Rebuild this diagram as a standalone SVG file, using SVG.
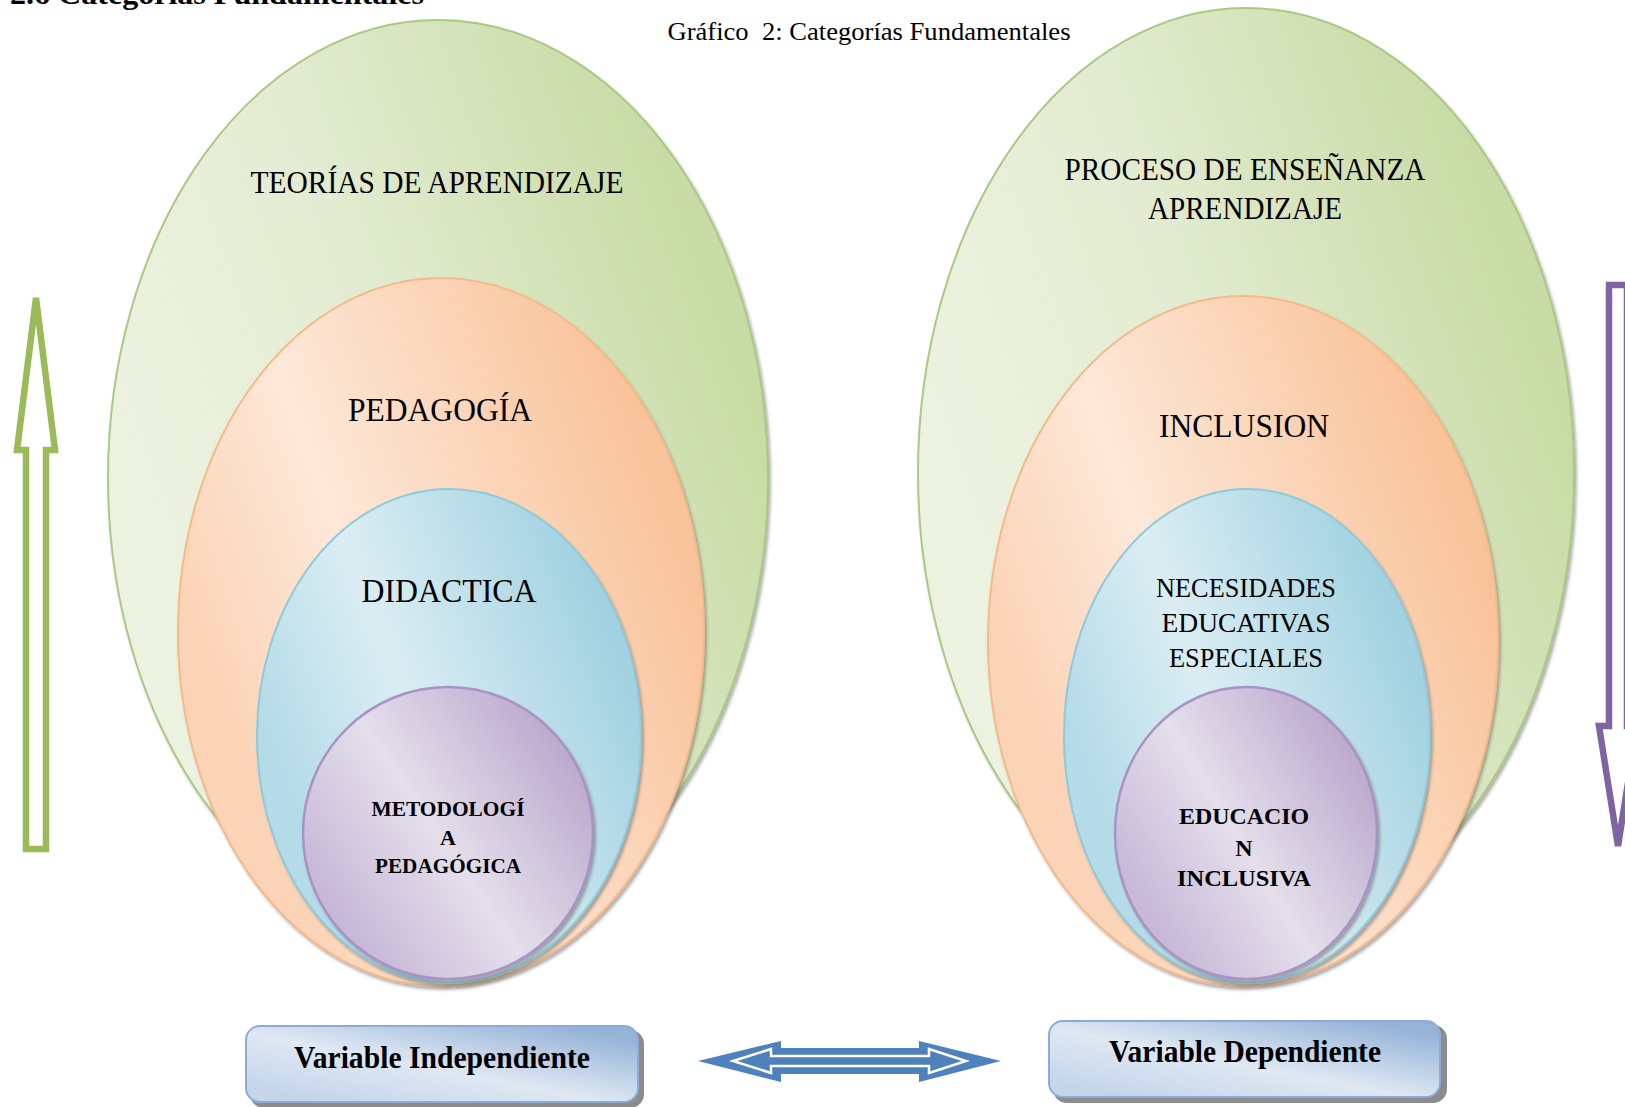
<svg xmlns="http://www.w3.org/2000/svg" width="1625" height="1107" viewBox="0 0 1625 1107">
<defs>
<linearGradient id="gGreen" x1="0.1" y1="0.65" x2="0.9" y2="0.25">
<stop offset="0" stop-color="#ecf2e0"/><stop offset="0.45" stop-color="#e3ecd2"/><stop offset="1" stop-color="#c8dba4"/>
</linearGradient>
<linearGradient id="gOrange" x1="0.1" y1="0.65" x2="0.9" y2="0.25">
<stop offset="0" stop-color="#fbd3b6"/><stop offset="0.35" stop-color="#fde8d8"/><stop offset="1" stop-color="#f9c39a"/>
</linearGradient>
<linearGradient id="gBlue" x1="0.1" y1="0.65" x2="0.9" y2="0.25">
<stop offset="0" stop-color="#b4dbe7"/><stop offset="0.4" stop-color="#dbedf3"/><stop offset="1" stop-color="#a2d2e1"/>
</linearGradient>
<linearGradient id="gPurple" x1="0.1" y1="0.75" x2="0.9" y2="0.2">
<stop offset="0" stop-color="#c7b8d7"/><stop offset="0.45" stop-color="#e4dfeb"/><stop offset="1" stop-color="#bcaace"/>
</linearGradient>
<linearGradient id="gBox" x1="0.1" y1="0.9" x2="0.9" y2="0.1">
<stop offset="0" stop-color="#c4d5ea"/><stop offset="0.45" stop-color="#dfe8f3"/><stop offset="1" stop-color="#95b3d7"/>
</linearGradient>
<filter id="sh" x="-10%" y="-10%" width="125%" height="125%">
<feDropShadow dx="2" dy="3" stdDeviation="1.5" flood-color="#555" flood-opacity="0.45"/>
</filter>
</defs>
<style>
.serif{font-family:"Liberation Serif","Times New Roman",serif;fill:#000}
.b{font-weight:bold}
.green{fill:url(#gGreen);stroke:#a9c985;stroke-width:2;filter:url(#sh)}
.orange{fill:url(#gOrange);stroke:#f6b98a;stroke-width:2;filter:url(#sh)}
.blue{fill:url(#gBlue);stroke:#8ecadb;stroke-width:2;filter:url(#sh)}
.purple{fill:url(#gPurple);stroke:#a993c4;stroke-width:2.5;filter:url(#sh)}
.box{fill:url(#gBox);stroke:#8eaadb;stroke-width:2}
.boxsh{fill:#8c8c8c}
</style>
<rect width="1625" height="1107" fill="#ffffff"/>

<text class="serif b" x="10" y="4" font-size="30" textLength="414" lengthAdjust="spacingAndGlyphs">2.6 Categorías Fundamentales</text>
<text class="serif" x="869" y="40" font-size="25" text-anchor="middle" textLength="403" lengthAdjust="spacingAndGlyphs" xml:space="preserve">Gráfico  2: Categorías Fundamentales</text>

<g id="left-set">
<g id="teorias"><ellipse class="green" cx="438" cy="478" rx="330" ry="458"/>
<text class="serif" x="437" y="193" font-size="31" text-anchor="middle" textLength="373" lengthAdjust="spacingAndGlyphs">TEORÍAS DE APRENDIZAJE</text></g>
<g id="pedagogia"><ellipse class="orange" cx="441" cy="632" rx="263" ry="354"/>
<text class="serif" x="440" y="421" font-size="33" text-anchor="middle" textLength="184" lengthAdjust="spacingAndGlyphs">PEDAGOGÍA</text></g>
<g id="didactica"><ellipse class="blue" cx="449" cy="736" rx="192" ry="247"/>
<text class="serif" x="449" y="602" font-size="33" text-anchor="middle" textLength="175" lengthAdjust="spacingAndGlyphs">DIDACTICA</text></g>
<g id="metodologia"><ellipse class="purple" cx="448" cy="833" rx="145" ry="146"/>
<text class="serif b" x="448" y="816" font-size="22" text-anchor="middle" textLength="153" lengthAdjust="spacingAndGlyphs">METODOLOGÍ</text>
<text class="serif b" x="448" y="845" font-size="22" text-anchor="middle">A</text>
<text class="serif b" x="448" y="873" font-size="22" text-anchor="middle" textLength="146" lengthAdjust="spacingAndGlyphs">PEDAGÓGICA</text></g>
</g>

<g id="right-set">
<g id="proceso"><ellipse class="green" cx="1246" cy="473" rx="328" ry="465"/>
<text class="serif" x="1245" y="180" font-size="31" text-anchor="middle" textLength="361" lengthAdjust="spacingAndGlyphs">PROCESO DE ENSEÑANZA</text>
<text class="serif" x="1245" y="219" font-size="31" text-anchor="middle" textLength="194" lengthAdjust="spacingAndGlyphs">APRENDIZAJE</text></g>
<g id="inclusion"><ellipse class="orange" cx="1243" cy="641" rx="255" ry="345"/>
<text class="serif" x="1244" y="437" font-size="33" text-anchor="middle" textLength="170" lengthAdjust="spacingAndGlyphs">INCLUSION</text></g>
<g id="necesidades"><ellipse class="blue" cx="1247" cy="736" rx="183" ry="247"/>
<text class="serif" x="1246" y="597" font-size="27" text-anchor="middle" textLength="180" lengthAdjust="spacingAndGlyphs">NECESIDADES</text>
<text class="serif" x="1246" y="632" font-size="27" text-anchor="middle" textLength="169" lengthAdjust="spacingAndGlyphs">EDUCATIVAS</text>
<text class="serif" x="1246" y="667" font-size="27" text-anchor="middle" textLength="154" lengthAdjust="spacingAndGlyphs">ESPECIALES</text></g>
<g id="educacion"><ellipse class="purple" cx="1246" cy="833" rx="131" ry="146"/>
<text class="serif b" x="1244" y="824" font-size="24" text-anchor="middle" textLength="130" lengthAdjust="spacingAndGlyphs">EDUCACIO</text>
<text class="serif b" x="1244" y="856" font-size="24" text-anchor="middle">N</text>
<text class="serif b" x="1244" y="886" font-size="24" text-anchor="middle" textLength="134" lengthAdjust="spacingAndGlyphs">INCLUSIVA</text></g>
</g>

<g id="var-independiente">
<rect class="boxsh" x="250" y="1030" width="394" height="78" rx="14"/>
<rect class="box" x="246" y="1026" width="392" height="76" rx="14"/>
<text class="serif b" x="442" y="1068" font-size="31" text-anchor="middle" textLength="296" lengthAdjust="spacingAndGlyphs">Variable Independiente</text>
</g>
<g id="var-dependiente">
<rect class="boxsh" x="1053" y="1025" width="394" height="78" rx="14"/>
<rect class="box" x="1049" y="1021" width="391" height="76" rx="14"/>
<text class="serif b" x="1245" y="1062" font-size="31" text-anchor="middle" textLength="272" lengthAdjust="spacingAndGlyphs">Variable Dependiente</text>
</g>

<g id="connectors">
<path d="M36,298 L55,450 L46,450 L46,849 L26,849 L26,450 L17,450 Z" fill="#ffffff" stroke="#9bbb59" stroke-width="6.5"/>
<path d="M1609,285 L1627,285 L1627,726 L1637,726 L1618,846 L1599,726 L1609,726 Z" fill="#ffffff" stroke="#8064a2" stroke-width="6.5"/>
<path d="M698,1061 L781,1041 L781,1048 L919,1048 L919,1041 L1001,1061 L919,1082 L919,1074 L781,1074 L781,1082 Z" fill="#4f81bd"/>
<path d="M733,1061 L771,1049 L771,1056 L929,1056 L929,1049 L966,1061 L929,1073 L929,1066 L771,1066 L771,1073 Z" fill="#4f81bd" stroke="#ffffff" stroke-width="2.5"/>
</g>
</svg>
